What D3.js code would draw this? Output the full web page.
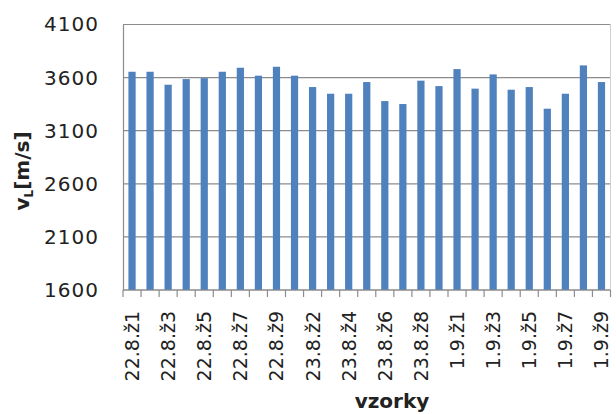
<!DOCTYPE html>
<html><head><meta charset="utf-8">
<script src="https://cdn.jsdelivr.net/npm/d3@7"></script>
<style>body{margin:0;background:#fff;} svg{display:block;}</style>
</head><body>
<script>
const categories = [
 "22.8.ž1","22.8.ž2","22.8.ž3","22.8.ž4","22.8.ž5","22.8.ž6","22.8.ž7","22.8.ž8","22.8.ž9",
 "23.8.ž1","23.8.ž2","23.8.ž3","23.8.ž4","23.8.ž5","23.8.ž6","23.8.ž7","23.8.ž8","23.8.ž9",
 "1.9.ž1","1.9.ž2","1.9.ž3","1.9.ž4","1.9.ž5","1.9.ž6","1.9.ž7","1.9.ž8","1.9.ž9"];
const values = [3655,3655,3533,3586,3595,3655,3693,3618,3702,
 3618,3511,3448,3448,3558,3379,3351,3571,3520,
 3680,3496,3630,3486,3511,3307,3448,3715,3558];
const yTicks = [1600,2100,2600,3100,3600,4100];
const yTitle = "v", yTitleSub = "L", yTitleRest = "[m/s]";
const xTitle = "vzorky";

const W=616,H=414;
const m={l:123,t:24.5,r:5.5,b:124};
const svg=d3.select("body").append("svg").attr("width",W).attr("height",H);
const pw=W-m.l-m.r, ph=H-m.t-m.b;
const g=svg.append("g").attr("transform",`translate(${m.l},${m.t})`);
const x=d3.scaleBand().domain(categories).range([0,pw]).paddingInner(0.6).paddingOuter(0.3);
const y=d3.scaleLinear().domain([1600,4100]).range([ph,0]);
const font="'DejaVu Sans', sans-serif";

// gridlines
g.selectAll("line.grid").data(yTicks).enter().append("line")
 .attr("x1",0).attr("x2",pw).attr("y1",d=>y(d)).attr("y2",d=>y(d))
 .attr("stroke","#8c8c8c").attr("stroke-width",1.2);
// right border
g.append("line").attr("x1",pw).attr("x2",pw).attr("y1",0).attr("y2",ph).attr("stroke","#d0d0d0");

// bars
g.selectAll("rect").data(values).enter().append("rect")
 .attr("x",(d,i)=>x(categories[i])).attr("width",x.bandwidth())
 .attr("y",d=>y(d)).attr("height",d=>ph-y(d)).attr("fill","#4F81BD");

// y axis
const ya=g.append("g").call(d3.axisLeft(y).tickValues(yTicks).tickSize(0).tickPadding(24).tickFormat(d3.format("d")));
ya.select(".domain").attr("stroke","#8c8c8c").attr("stroke-width",1.2);
ya.selectAll("text").attr("font-family",font).attr("font-size",20).attr("letter-spacing",1).attr("fill","#222");

// x axis
const step=x.step();
const xa=g.append("g").attr("transform",`translate(0,${ph})`);
xa.append("line").attr("x1",0).attr("x2",pw).attr("stroke","#8c8c8c").attr("stroke-width",1.2);
xa.selectAll("line.tk").data(d3.range(categories.length+1)).enter().append("line")
 .attr("x1",i=>i*step).attr("x2",i=>i*step).attr("y1",0).attr("y2",7)
 .attr("stroke","#8c8c8c").attr("stroke-width",1.2);
xa.selectAll("text").data(categories.filter((c,i)=>i%2===0)).enter().append("text")
 .attr("transform",d=>`translate(${x(d)+x.bandwidth()/2+7},${21}) rotate(-90)`)
 .attr("text-anchor","end").attr("font-family",font).attr("font-size",19).attr("fill","#222")
 .text(d=>d);

// titles
const yt=svg.append("text").attr("transform","translate(29,171) rotate(-90)")
 .attr("text-anchor","middle").attr("font-family",font).attr("font-weight","bold").attr("font-size",20).attr("fill","#222");
yt.append("tspan").text(yTitle);
yt.append("tspan").attr("font-size",12).attr("dy",4).text(yTitleSub);
yt.append("tspan").attr("dy",-4).text(yTitleRest);
svg.append("text").attr("x",392).attr("y",408).attr("text-anchor","middle")
 .attr("font-family",font).attr("font-weight","bold").attr("font-size",20).attr("fill","#222").text(xTitle);
</script>
</body></html>
